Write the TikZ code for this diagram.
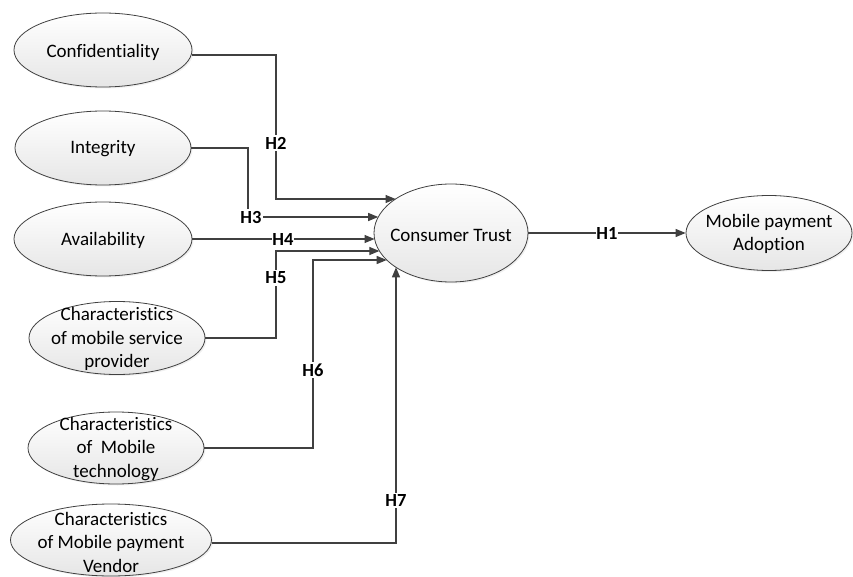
\documentclass[tikz,border=0pt]{standalone}
\usepackage{fontspec}
\setmainfont{Carlito}[BoldFont={Carlito Bold},Ligatures={NoCommon}]
\usetikzlibrary{shapes.geometric,arrows.meta,shadows,calc}
\definecolor{linec}{HTML}{404040}
\definecolor{fillb}{HTML}{E6E6E6}
\begin{document}
\begin{tikzpicture}[x=1pt,y=-1pt,
  oval/.style={ellipse,draw=linec,line width=0.8pt,inner sep=0pt,
    top color=white,bottom color=fillb,
    drop shadow={opacity=0.12,shadow xshift=1.5pt,shadow yshift=-1.5pt}},
  otext/.style={align=center,font=\fontsize{19}{23.5}\selectfont,inner sep=0pt},
  hlabel/.style={fill=white,font=\fontsize{18.5}{20}\selectfont\bfseries,inner sep=1.5pt},
  conn/.style={draw=linec,line width=1.1pt,-{Triangle[length=10pt,width=8pt]}}]
\useasboundingbox (0,0) rectangle (853,577);
% ellipses
\node[oval,minimum width=178pt,minimum height=74pt] (conf) at (103,50) {};
\node[otext] at ($(conf)+(0,2)$) {Confidentiality};
\node[oval,minimum width=176pt,minimum height=74pt] (integ) at (103,148) {};
\node[otext] at ($(integ)+(0,1)$) {Integrity};
\node[oval,minimum width=178pt,minimum height=74pt] (avail) at (103,239) {};
\node[otext] at ($(avail)+(0,1)$) {Availability};
\node[oval,minimum width=176pt,minimum height=73pt] (csp) at (117,338) {};
\node[otext] at ($(csp)+(0,1)$) {Characteristics\\of mobile service\\provider};
\node[oval,minimum width=176pt,minimum height=72pt] (ctech) at (116,448) {};
\node[otext] at ($(ctech)+(0,1)$) {Characteristics\\of~ Mobile\\technology};
\node[oval,minimum width=201pt,minimum height=72pt] (vend) at (111,540) {};
\node[otext] at ($(vend)+(0,2)$) {Characteristics\\of Mobile payment\\Vendor};
\node[oval,minimum width=154pt,minimum height=98pt] (ct) at (451,233) {};
\node[otext] at ($(ct)+(0,2)$) {Consumer Trust};
\node[oval,minimum width=166pt,minimum height=75pt] (mpa) at (769,233) {};
\node[otext] at ($(mpa)+(0,1)$) {Mobile payment\\Adoption};
% end coordinates on Consumer Trust boundary
\coordinate (e2) at ($(ct.center)+({-77*sqrt(1-(34/49)^2)},-34)$);
\coordinate (e3) at ($(ct.center)+({-77*sqrt(1-(16/49)^2)},-16)$);
\coordinate (e4) at ($(ct.center)+({-77*sqrt(1-(6/49)^2)},6)$);
\coordinate (e5) at ($(ct.center)+({-77*sqrt(1-(18/49)^2)},18)$);
\coordinate (e6) at ($(ct.center)+({-77*sqrt(1-(27/49)^2)},27)$);
\coordinate (e7) at ($(ct.center)+(-55,{49*sqrt(1-(55/77)^2)})$);
% connectors
\draw[conn] ([yshift=-5pt]conf.east) -| (276,199) -- (e2);
\node[hlabel] at (276,143) {H2};
\draw[conn] (integ.east) -| (248,217) -- (e3);
\node[hlabel] at (251,217) {H3};
\draw[conn] (avail.east |- e4) -- (e4);
\node[hlabel,inner sep=0.5pt] at (283,239) {H4};
\draw[conn] (csp.east) -| (276,251) -- (e5);
\node[hlabel] at (276,278) {H5};
\draw[conn] (ctech.east) -| (313,260) -- (e6);
\node[hlabel] at (313,370) {H6};
\draw[conn] ([yshift=-3pt]vend.east) -| (e7);
\node[hlabel] at (396,500) {H7};
\draw[conn] (ct.east) -- (mpa.west);
\node[hlabel,inner sep=0.5pt] at (607,233) {H1};
\end{tikzpicture}
\end{document}
